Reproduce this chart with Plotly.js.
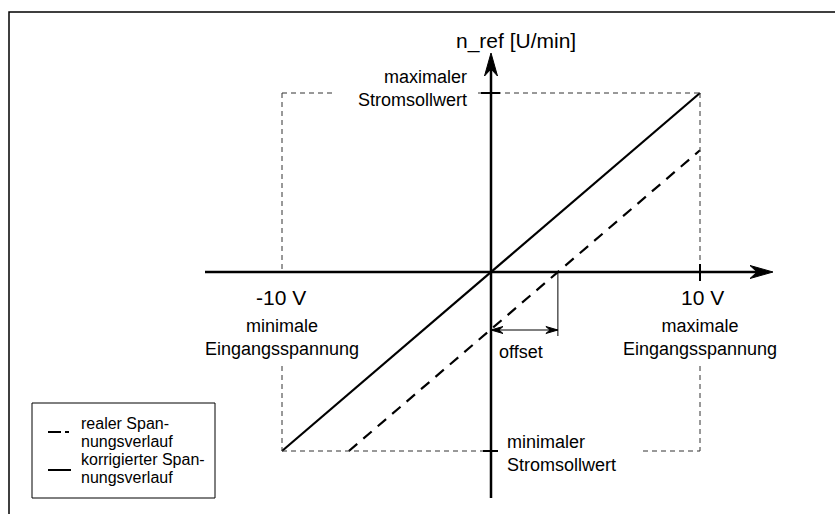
<!DOCTYPE html>
<html>
<head>
<meta charset="utf-8">
<script src="https://cdn.plot.ly/plotly-3.0.1.min.js"></script>
<style>
  html, body { margin: 0; padding: 0; background: #fff; }
  #kennlinie-plot { width: 835px; height: 514px; }
</style>
</head>
<body>
<div id="kennlinie-plot"></div>
<script>
// Eingangsspannung [V] and normalised n_ref (1 = maximaler Stromsollwert)
var spannung = [-10, 10];
var korrigiert = [-1, 1];
var realSpannung = [-6.8, 10];
var realWert = [-1, 0.68];
var offsetV = 3.2;

var legendNames = [['realer Span-', 'nungsverlauf'], ['korrigierter Span-', 'nungsverlauf']];
var xTickLabels = ['-10 V', '10 V'];
var xTickNotes = ['minimale<br>Eingangsspannung', 'maximale<br>Eingangsspannung'];
var yTickNotes = ['maximaler<br>Stromsollwert', 'minimaler<br>Stromsollwert'];
var yTitle = 'n_ref [U/min]';
var offsetLabel = 'offset';

// page geometry: origin pixel and pixel per unit
var W = 835, H = 514;
var ORIGIN = [491, 272];
var PX_PER_V = 20.9;
var PX_PER_Y = 179;

function px2x(px) { return (px - ORIGIN[0]) / PX_PER_V; }
function py2y(py) { return (ORIGIN[1] - py) / PX_PER_Y; }

var FONT = 'Liberation Sans, Arial, sans-serif';

function line(x0, y0, x1, y1, opts) {
  return Object.assign({
    type: 'line', xref: 'x', yref: 'y', x0: x0, y0: y0, x1: x1, y1: y1,
    line: { color: '#000', width: 1 }
  }, opts || {});
}

// arrow head as pixel sized path anchored at tip
function head(x, y, dir, len, half, back) {
  var p;
  if (dir === 'r') p = 'M0,0 L' + (-len) + ',' + half + ' L' + (-back) + ',0 L' + (-len) + ',' + (-half) + ' Z';
  if (dir === 'l') p = 'M0,0 L' + len + ',' + half + ' L' + back + ',0 L' + len + ',' + (-half) + ' Z';
  if (dir === 'u') p = 'M0,0 L' + (-half) + ',' + (-len) + ' L0,' + (-back) + ' L' + half + ',' + (-len) + ' Z';
  return {
    type: 'path', xref: 'x', yref: 'y', xsizemode: 'pixel', ysizemode: 'pixel',
    xanchor: x, yanchor: y, path: p,
    fillcolor: '#000', line: { color: '#000', width: 1 }
  };
}

function label(x, y, text, size, opts) {
  return Object.assign({
    xref: 'x', yref: 'y', x: x, y: y, text: text, showarrow: false,
    font: { family: FONT, size: size, color: '#000' },
    xanchor: 'center', yanchor: 'middle', align: 'center'
  }, opts || {});
}

function drawKennlinie() {
  var xMin = spannung[0], xMax = spannung[1];
  var yMin = korrigiert[0], yMax = korrigiert[1];

  var xAxisStart = px2x(205), xAxisTip = px2x(773);
  var yAxisTip = py2y(53), yAxisEnd = py2y(498);

  var guide = { color: '#333', width: 1, dash: '5px,4px' };

  var shapes = [
    // frame
    { type: 'rect', xref: 'paper', yref: 'paper', x0: 9 / W, x1: 1.02, y0: -0.02, y1: 1 - 12 / H,
      line: { color: '#000', width: 1.5 }, fillcolor: 'rgba(0,0,0,0)' },
    // dashed limits
    line(xMin, yMax, px2x(333), yMax, { line: guide }),
    line(px2x(478), yMax, xMax, yMax, { line: guide }),
    line(xMin, yMin, 0, yMin, { line: guide }),
    line(px2x(643), yMin, xMax, yMin, { line: guide }),
    line(xMin, yMax, xMin, 0, { line: guide }),
    line(xMin, py2y(366), xMin, yMin, { line: guide }),
    line(xMax, yMax, xMax, 0, { line: guide }),
    line(xMax, py2y(366), xMax, yMin, { line: guide }),
    // axes
    line(xAxisStart, 0, xAxisTip - 0.6, 0, { line: { color: '#000', width: 2.5 } }),
    line(0, yAxisEnd, 0, yAxisTip - 0.08, { line: { color: '#000', width: 2.5 } }),
    head(xAxisTip, 0, 'r', 23, 6.5, 16),
    head(0, yAxisTip, 'u', 23, 6.5, 16),
    // ticks
    { type: 'line', xref: 'x', yref: 'y', ysizemode: 'pixel', yanchor: 0, x0: xMax, x1: xMax, y0: -9, y1: 8,
      line: { color: '#000', width: 2 } },
    { type: 'line', xref: 'x', yref: 'y', xsizemode: 'pixel', xanchor: 0, x0: -10, x1: 9, y0: yMax, y1: yMax,
      line: { color: '#000', width: 2 } },
    { type: 'line', xref: 'x', yref: 'y', xsizemode: 'pixel', xanchor: 0, x0: -8, x1: 7, y0: yMin, y1: yMin,
      line: { color: '#000', width: 2 } },
    // offset dimension
    line(offsetV, 0, offsetV, py2y(336), { line: { color: '#000', width: 1 } }),
    line(0, py2y(330), offsetV, py2y(330), { line: { color: '#000', width: 1 } }),
    head(0, py2y(330), 'l', 12, 3.5, 8),
    head(offsetV, py2y(330), 'r', 12, 3.5, 8),
    // legend box and samples
    { type: 'rect', xref: 'x', yref: 'y', x0: px2x(32), x1: px2x(215), y0: py2y(498), y1: py2y(403),
      line: { color: '#000', width: 1 }, fillcolor: '#fff' },
    line(px2x(48), py2y(432), px2x(69), py2y(432), { line: { color: '#000', width: 2, dash: '13px,4px' } }),
    line(px2x(48), py2y(470), px2x(71), py2y(470), { line: { color: '#000', width: 2 } })
  ];

  var annotations = [
    label(px2x(516), py2y(41), yTitle, 21),
    label(px2x(469), py2y(88), yTickNotes[0], 18, { xanchor: 'right', align: 'right' }),
    label(px2x(505), py2y(453), yTickNotes[1], 18, { xanchor: 'left', align: 'left' }),
    label(xMin - 0.05, py2y(297), xTickLabels[0], 21),
    label(xMax + 0.1, py2y(297), xTickLabels[1], 21),
    label(xMin, py2y(337), xTickNotes[0], 18),
    label(xMax, py2y(337), xTickNotes[1], 18),
    label(px2x(521), py2y(352), offsetLabel, 18),
    label(px2x(79), py2y(423), legendNames[0][0], 16, { xanchor: 'left', align: 'left' }),
    label(px2x(79), py2y(441), legendNames[0][1], 16, { xanchor: 'left', align: 'left' }),
    label(px2x(79), py2y(459), legendNames[1][0], 16, { xanchor: 'left', align: 'left' }),
    label(px2x(79), py2y(477), legendNames[1][1], 16, { xanchor: 'left', align: 'left' })
  ];

  var plotData = [
    { x: spannung, y: korrigiert, type: 'scatter', mode: 'lines', name: 'korrigierter Spannungsverlauf',
      line: { color: '#000', width: 2.2 } },
    { x: realSpannung, y: realWert, type: 'scatter', mode: 'lines', name: 'realer Spannungsverlauf',
      line: { color: '#000', width: 2.2, dash: '11px,8px' } }
  ];

  var layout = {
    width: W,
    height: H,
    margin: { l: 0, r: 0, t: 0, b: 0 },
    paper_bgcolor: '#fff',
    plot_bgcolor: '#fff',
    showlegend: false,
    xaxis: { range: [px2x(0), px2x(W)], visible: false, fixedrange: true },
    yaxis: { range: [py2y(H), py2y(0)], visible: false, fixedrange: true },
    shapes: shapes,
    annotations: annotations
  };

  Plotly.newPlot('kennlinie-plot', plotData, layout, { staticPlot: true });
}

document.addEventListener('DOMContentLoaded', drawKennlinie);
</script>
</body>
</html>
